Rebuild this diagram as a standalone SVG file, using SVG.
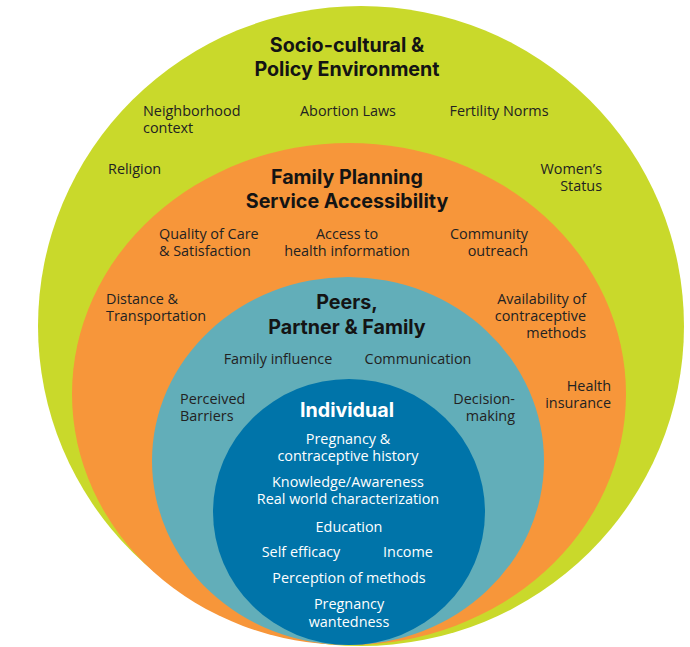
<svg xmlns="http://www.w3.org/2000/svg" width="690" height="647" viewBox="0 0 690 647">
  <style>
    .head { font-family: Inter, "Liberation Sans", sans-serif; font-weight: 700; font-size: 19.7px; fill: #141414; text-anchor: middle; }
    .item { font-family: "Open Sans", "Liberation Sans", sans-serif; font-size: 14.4px; fill: #222222; }
    .mid { text-anchor: middle; }
    .end { text-anchor: end; }
    .light { fill: #ffffff; }
  </style>

  <rect width="690" height="647" fill="#ffffff"/>

  <!-- Outer ring: socio-cultural and policy environment -->
  <g id="socio-cultural">
    <ellipse cx="361" cy="326" rx="323" ry="320" fill="#c9d92b"/>
    <text class="head" x="347" y="52">Socio-cultural &amp;</text>
    <text class="head" x="347" y="76">Policy Environment</text>
    <text class="item" x="143" y="116">Neighborhood</text>
    <text class="item" x="143" y="133">context</text>
    <text class="item mid" x="348" y="116">Abortion Laws</text>
    <text class="item mid" x="499" y="116">Fertility Norms</text>
    <text class="item" x="108" y="174">Religion</text>
    <text class="item end" x="602" y="174">Women’s</text>
    <text class="item end" x="602" y="191">Status</text>
  </g>

  <!-- Second ring: family planning service accessibility -->
  <g id="service-accessibility">
    <ellipse cx="349" cy="394" rx="277" ry="251" fill="#f7963a"/>
    <text class="head" x="347" y="184">Family Planning</text>
    <text class="head" x="347" y="208">Service Accessibility</text>
    <text class="item" x="159" y="239">Quality of Care</text>
    <text class="item" x="159" y="256">&amp; Satisfaction</text>
    <text class="item mid" x="347" y="239">Access to</text>
    <text class="item mid" x="347" y="256">health information</text>
    <text class="item end" x="528" y="239">Community</text>
    <text class="item end" x="528" y="256">outreach</text>
    <text class="item" x="106" y="304">Distance &amp;</text>
    <text class="item" x="106" y="321">Transportation</text>
    <text class="item end" x="586" y="304">Availability of</text>
    <text class="item end" x="586" y="321">contraceptive</text>
    <text class="item end" x="586" y="338">methods</text>
    <text class="item end" x="611" y="391">Health</text>
    <text class="item end" x="611" y="408">insurance</text>
  </g>

  <!-- Third ring: peers, partner and family -->
  <g id="peers-partner-family">
    <ellipse cx="348" cy="461" rx="196" ry="184" fill="#62aeb9"/>
    <text class="head" x="347" y="309">Peers,</text>
    <text class="head" x="347" y="334">Partner &amp; Family</text>
    <text class="item mid" x="278" y="364">Family influence</text>
    <text class="item mid" x="418" y="364">Communication</text>
    <text class="item" x="180" y="404">Perceived</text>
    <text class="item" x="180" y="421">Barriers</text>
    <text class="item end" x="515" y="404">Decision-</text>
    <text class="item end" x="515" y="421">making</text>
  </g>

  <!-- Core: the individual -->
  <g id="individual">
    <ellipse cx="349" cy="512" rx="136" ry="133" fill="#0074a9"/>
    <text class="head light" x="347" y="417">Individual</text>
    <text class="item mid light" x="348" y="444">Pregnancy &amp;</text>
    <text class="item mid light" x="348" y="461">contraceptive history</text>
    <text class="item mid light" x="348" y="487">Knowledge/Awareness</text>
    <text class="item mid light" x="348" y="504">Real world characterization</text>
    <text class="item mid light" x="349" y="532">Education</text>
    <text class="item mid light" x="301" y="557">Self efficacy</text>
    <text class="item mid light" x="408" y="557">Income</text>
    <text class="item mid light" x="349" y="583">Perception of methods</text>
    <text class="item mid light" x="349" y="609">Pregnancy</text>
    <text class="item mid light" x="349" y="627">wantedness</text>
  </g>
</svg>
